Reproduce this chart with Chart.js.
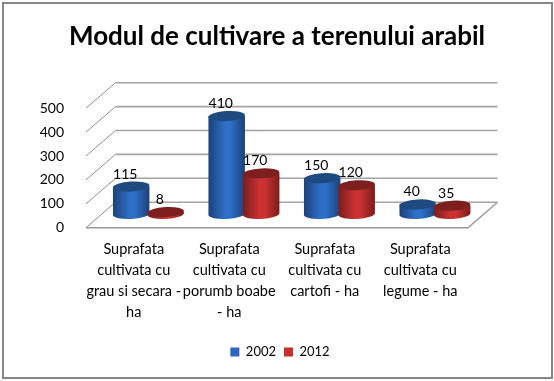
<!DOCTYPE html>
<html><head><meta charset="utf-8">
<style>html,body{margin:0;padding:0;background:#fff}#w{position:relative;width:554px;height:381px}
#w:after{content:"";position:absolute;left:2px;top:2px;width:547px;height:373px;border:2px solid #868686;pointer-events:none}</style>
<script src="https://cdn.jsdelivr.net/npm/chart.js@4"></script></head>
<body><div id="w"><canvas id="c" width="554" height="381"></canvas></div>
<script>
const categories=[["Suprafata","cultivata cu","grau si secara -","ha"],["Suprafata","cultivata cu","porumb boabe","- ha"],["Suprafata","cultivata cu","cartofi - ha"],["Suprafata","cultivata cu","legume - ha"]];
const series2002=[115,410,150,40];
const series2012=[8,170,120,35];
const yTicks=[0,100,200,300,400,500];
const FONT='Lato, Carlito, sans-serif';
const wallDx=29.5, wallDy=25.5, barDx=14.7, barDy=13.7, ryTop=5;
const pal=[{edge:'#1c4178',mid:'#2f6fc8',top:'#1f4a80'},{edge:'#7a1c1c',mid:'#cb3232',top:'#7d1f1f'}];
const cyl={id:'cyl',
 afterLayout(ch){ch.legend.left+=3;ch.legend.right+=3;},
 beforeDatasetsDraw(ch){
  const {ctx,chartArea:a,scales:{y}}=ch;
  ctx.save();
  yTicks.forEach(v=>{const p=y.getPixelForValue(v);
    ctx.strokeStyle='#8c8c8c';ctx.lineWidth=1;
    ctx.beginPath();ctx.moveTo(a.left,p);ctx.lineTo(a.left+wallDx,p-wallDy);ctx.stroke();
    ctx.strokeStyle='#a3a3a3';ctx.lineWidth=1.6;
    ctx.beginPath();ctx.moveTo(a.left+wallDx,p-wallDy);ctx.lineTo(a.right+wallDx,p-wallDy);ctx.stroke();});
  const p0=y.getPixelForValue(0);
  ctx.strokeStyle='#9a9a9a';ctx.lineWidth=1.4;
  ctx.beginPath();ctx.moveTo(a.left,p0);ctx.lineTo(a.right,p0);ctx.lineTo(a.right+wallDx,p0-wallDy);ctx.stroke();
  ctx.translate(barDx,-barDy);
  const metas=[0,1].map(i=>ch.getDatasetMeta(i));
  metas[0].data.forEach((_,k)=>metas.forEach((m,i)=>{
    const e=m.data[k],w=e.width,l=e.x-w/2,c=pal[i],rx=w/2;
    const g=ctx.createLinearGradient(l,0,l+w,0);
    g.addColorStop(0,c.edge);g.addColorStop(.45,c.mid);g.addColorStop(.6,c.mid);g.addColorStop(1,c.edge);
    ctx.fillStyle=g;
    ctx.beginPath();ctx.moveTo(l,e.y);ctx.lineTo(l,e.base);
    ctx.ellipse(e.x,e.base,rx,ryTop,-0.06,Math.PI,0,true);
    ctx.lineTo(l+w,e.y);ctx.closePath();ctx.fill();
    ctx.fillStyle=c.top;
    ctx.beginPath();ctx.ellipse(e.x,e.y,rx,ryTop,-0.06,0,Math.PI*2);ctx.fill();
  }));
  ctx.font='14px '+FONT;ctx.fillStyle='#000';ctx.textAlign='center';ctx.textBaseline='alphabetic';
  metas.forEach(m=>m.data.forEach((e,k)=>{
    const v=m._dataset.data[k];ctx.fillText(String(v),e.x-6,e.y-8);}));
  ctx.restore();
  return false;
}};
new Chart(document.getElementById('c'),{type:'bar',
 data:{labels:categories,datasets:[
  {label:'2002',data:series2002,backgroundColor:'#2c67bd',borderWidth:0,categoryPercentage:.7225,barPercentage:1.058},
  {label:'2012',data:series2012,backgroundColor:'#c63030',borderWidth:0,categoryPercentage:.7225,barPercentage:1.058}]},
 options:{responsive:false,animation:false,
  layout:{padding:{left:14,right:14,top:21,bottom:12.5}},
  plugins:{title:{display:true,text:'Modul de cultivare a terenului arabil',color:'#000',
     font:{family:FONT,size:26,weight:'bold'},padding:{top:0,bottom:56}},
    legend:{position:'bottom',labels:{boxWidth:9,boxHeight:9,color:'#000',padding:8,font:{family:FONT,size:13}}},
    tooltip:{enabled:false}},
  scales:{x:{grid:{display:false},border:{display:false},
      ticks:{color:'#000',font:{family:FONT,size:14.5,lineHeight:1.45},maxRotation:0,autoSkip:false,padding:3},
      afterFit(s){s.height=109.8}},
    y:{min:0,max:500,grid:{display:false},border:{display:false},
      ticks:{stepSize:100,color:'#000',font:{family:FONT,size:14},padding:14},
      afterFit(s){s.width=72}},
    y2:{position:'right',min:0,max:500,grid:{display:false},border:{display:false},ticks:{display:false},
      afterFit(s){s.width=72}}}},
 plugins:[cyl]});
</script></body></html>
